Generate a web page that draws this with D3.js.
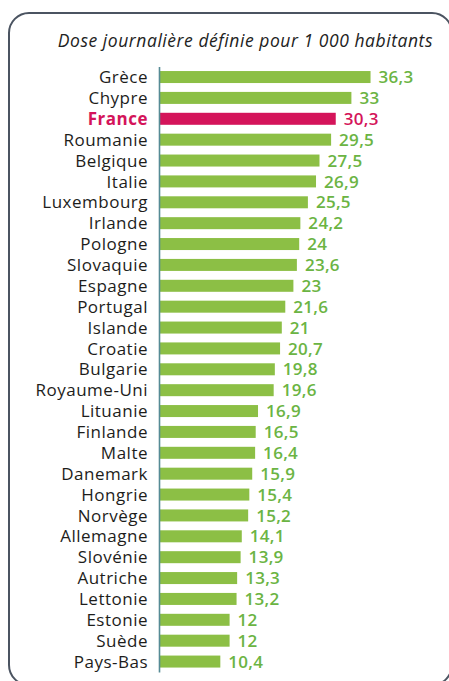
<!DOCTYPE html>
<html>
<head>
<meta charset="utf-8">
<script src="https://cdn.jsdelivr.net/npm/d3@7"></script>
<style>
  body { margin: 0; background: #fff; }
  svg { display: block; }
</style>
</head>
<body>
<div id="chart"></div>
<script>
const countries = ["Grèce", "Chypre", "France", "Roumanie", "Belgique", "Italie", "Luxembourg",
  "Irlande", "Pologne", "Slovaquie", "Espagne", "Portugal", "Islande", "Croatie", "Bulgarie",
  "Royaume-Uni", "Lituanie", "Finlande", "Malte", "Danemark", "Hongrie", "Norvège", "Allemagne",
  "Slovénie", "Autriche", "Lettonie", "Estonie", "Suède", "Pays-Bas"];
const values = [36.3, 33, 30.3, 29.5, 27.5, 26.9, 25.5, 24.2, 24, 23.6, 23, 21.6, 21, 20.7, 19.8,
  19.6, 16.9, 16.5, 16.4, 15.9, 15.4, 15.2, 14.1, 13.9, 13.3, 13.2, 12, 12, 10.4];
const highlight = "France";
const title = "Dose journalière définie pour 1 000 habitants";

const data = countries.map((c, i) => ({country: c, value: values[i]}));

const width = 449, height = 681;
const green = "#8cbf45", greenText = "#6bb443", pink = "#d4145a";
const font = "'Open Sans', sans-serif";

const svg = d3.select("#chart").append("svg")
  .attr("width", width)
  .attr("height", height);

// frame
svg.append("rect")
  .attr("x", 9).attr("y", 13)
  .attr("width", 443).attr("height", 672)
  .attr("rx", 20).attr("ry", 20)
  .attr("fill", "none")
  .attr("stroke", "#4b5461")
  .attr("stroke-width", 2);

svg.append("text")
  .attr("x", 433).attr("y", 47)
  .attr("text-anchor", "end")
  .attr("font-family", font)
  .attr("font-style", "italic")
  .attr("font-size", 17.5)
  .attr("letter-spacing", 0.55)
  .attr("fill", "#222")
  .text(title);

const x = d3.scaleLinear().domain([0, 40]).range([160, 392]);
const y = d3.scaleBand()
  .domain(countries)
  .range([66.6, 672])
  .paddingInner(0.425)
  .paddingOuter(0.2125);

svg.selectAll(".bar")
  .data(data)
  .enter()
  .append("rect")
  .attr("class", "bar")
  .attr("x", x(0))
  .attr("y", d => y(d.country))
  .attr("width", d => x(d.value) - x(0))
  .attr("height", y.bandwidth())
  .attr("fill", d => d.country === highlight ? pink : green);

svg.selectAll(".val")
  .data(data)
  .enter()
  .append("text")
  .attr("class", "val")
  .attr("x", d => x(d.value) + 8)
  .attr("y", d => y(d.country) + y.bandwidth() / 2)
  .attr("dy", "0.36em")
  .attr("font-family", font)
  .attr("font-weight", 600)
  .attr("font-size", 17)
  .attr("letter-spacing", 0.3)
  .attr("fill", d => d.country === highlight ? pink : greenText)
  .text(d => String(d.value).replace(".", ","));

const axis = svg.append("g")
  .attr("transform", `translate(159,0)`)
  .call(d3.axisLeft(y).tickSize(0).tickPadding(11));

axis.select(".domain")
  .attr("stroke", "#568b95")
  .attr("stroke-width", 1.6);

axis.selectAll(".tick text")
  .attr("font-family", font)
  .attr("font-size", 17)
  .attr("letter-spacing", 0.5)
  .attr("dy", "0.36em")
  .attr("fill", d => d === highlight ? pink : "#1d1d1b")
  .attr("font-weight", d => d === highlight ? 700 : 400);
</script>
</body>
</html>
